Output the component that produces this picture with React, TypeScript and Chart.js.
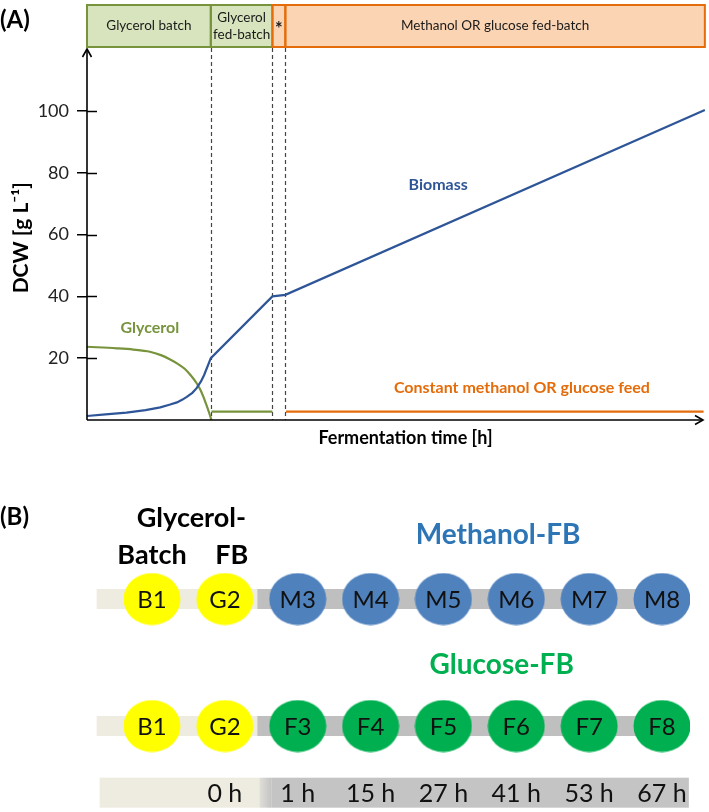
import React, { useEffect, useRef } from 'react';
import { Chart, registerables } from 'chart.js';

Chart.register(...registerables);

const FONT = 'Lato, "Open Sans", "DejaVu Sans", sans-serif';

// ---------------- Panel A data (time in arbitrary units, DCW in g/L) ----------------
const biomassTime = [0, 3, 6.4, 9.5, 11.9, 13.5, 14.6, 15.5, 16.2, 17.1, 17.8, 18.5, 19.0, 20.1, 30.1, 32.2, 100.3];
const biomassDCW = [1.3, 1.8, 2.4, 3.2, 4.1, 5.0, 5.7, 6.6, 7.5, 8.8, 10.3, 12.5, 14.5, 20.0, 40.0, 40.5, 100.3];
const glycerolTime = [0, 4.8, 7.5, 10.2, 12, 13.5, 14.8, 15.9, 16.9, 17.8, 18.4, 18.9, 19.4, 19.8, 20.2];
const glycerolConc = [23.7, 23.2, 22.8, 22.1, 21.0, 19.6, 18.1, 16.5, 14.3, 11.9, 9.8, 7.5, 4.8, 2.5, 0];
const glycerolFeedTime = [20.2, 30.1];
const glycerolFeedLevel = [2.7, 2.7];
const carbonFeedTime = [32.3, 100.1];
const carbonFeedLevel = [2.7, 2.7];
const dcwTicks = [20, 40, 60, 80, 100];
const phaseStart = [0, 20.1, 30.1, 32.2];
const phaseEnd = [20.1, 30.1, 32.2, 100.3];
const phaseText = ['Glycerol batch', 'Glycerol\nfed-batch', '*', 'Methanol OR glucose fed-batch'];
const phaseGroup = ['glycerol', 'glycerol', 'carbon', 'carbon'];
const phaseBoundaries = [20.1, 30.1, 32.2];

// ---------------- Panel B data ----------------
const methanolStages = ['B1', 'G2', 'M3', 'M4', 'M5', 'M6', 'M7', 'M8'];
const glucoseStages = ['B1', 'G2', 'F3', 'F4', 'F5', 'F6', 'F7', 'F8'];
const stagePhase = ['batch', 'glycerolFB', 'feed', 'feed', 'feed', 'feed', 'feed', 'feed'];
const samplingTimes = ['', '0 h', '1 h', '15 h', '27 h', '41 h', '53 h', '67 h'];

const BLUE_LINE = '#2e5597';
const GREEN_LINE = '#77933c';
const ORANGE = '#e46c0a';
const GREEN_FILL = '#d7e4bd';
const ORANGE_FILL = '#fbd4b4';
const METHANOL_BLUE = '#4f81bd';
const GLUCOSE_GREEN = '#00b050';
const YELLOW = '#ffff00';

const toXY = (xs: number[], ys: number[]) => xs.map((x, i) => ({ x, y: ys[i] }));

function arrowHead(ctx: CanvasRenderingContext2D, x: number, y: number, dir: 'up' | 'right') {
  ctx.beginPath();
  if (dir === 'up') {
    ctx.moveTo(x - 4.5, y + 8);
    ctx.lineTo(x, y);
    ctx.lineTo(x + 4.5, y + 8);
  } else {
    ctx.moveTo(x - 8, y - 4.5);
    ctx.lineTo(x, y);
    ctx.lineTo(x - 8, y + 4.5);
  }
  ctx.stroke();
}

const ellipseCache: Record<string, HTMLCanvasElement> = {};
function ellipseMarker(color: string): HTMLCanvasElement {
  if (ellipseCache[color]) return ellipseCache[color];
  const c = document.createElement('canvas');
  c.width = 58;
  c.height = 53;
  const cx = c.getContext('2d') as CanvasRenderingContext2D;
  cx.fillStyle = color;
  cx.beginPath();
  cx.ellipse(29, 26.5, 28.5, 26, 0, 0, Math.PI * 2);
  cx.fill();
  ellipseCache[color] = c;
  return c;
}

const panelAPlugin = {
  id: 'panelA',
  beforeDatasetsDraw(chart: any) {
    const { ctx, chartArea: ca, scales } = chart;
    const x = scales.x;
    ctx.save();
    ctx.strokeStyle = '#444';
    ctx.lineWidth = 1.2;
    ctx.setLineDash([4, 3]);
    phaseBoundaries.forEach((t) => {
      const px = Math.round(x.getPixelForValue(t)) + 0.5;
      ctx.beginPath();
      ctx.moveTo(px, ca.top);
      ctx.lineTo(px, ca.bottom);
      ctx.stroke();
    });
    ctx.restore();
  },
  afterDatasetsDraw(chart: any) {
    const { ctx, chartArea: ca, scales } = chart;
    const x = scales.x;
    const y = scales.y;
    ctx.save();

    // axes with arrows
    ctx.strokeStyle = '#000';
    ctx.lineWidth = 1.6;
    ctx.beginPath();
    ctx.moveTo(ca.left, ca.bottom);
    ctx.lineTo(ca.left, ca.top + 1);
    ctx.stroke();
    arrowHead(ctx, ca.left, ca.top + 1, 'up');
    ctx.beginPath();
    ctx.moveTo(ca.left, ca.bottom);
    ctx.lineTo(ca.right, ca.bottom);
    ctx.stroke();
    arrowHead(ctx, ca.right, ca.bottom, 'right');

    // inner half of the crossing tick marks
    ctx.lineWidth = 1.5;
    dcwTicks.forEach((v) => {
      const py = Math.round(y.getPixelForValue(v)) + 0.5;
      ctx.beginPath();
      ctx.moveTo(ca.left, py);
      ctx.lineTo(ca.left + 10, py);
      ctx.stroke();
    });

    // phase bands
    const bandTop = 5;
    const bandBottom = ca.top - 1;
    const order = [0, 1, 2, 3];
    order.forEach((i) => {
      const x0 = x.getPixelForValue(phaseStart[i]);
      const x1 = x.getPixelForValue(phaseEnd[i]);
      const isGly = phaseGroup[i] === 'glycerol';
      ctx.fillStyle = isGly ? GREEN_FILL : ORANGE_FILL;
      ctx.fillRect(x0, bandTop, x1 - x0, bandBottom - bandTop);
    });
    order.forEach((i) => {
      const x0 = x.getPixelForValue(phaseStart[i]);
      const x1 = x.getPixelForValue(phaseEnd[i]);
      const isGly = phaseGroup[i] === 'glycerol';
      ctx.strokeStyle = isGly ? GREEN_LINE : ORANGE;
      ctx.lineWidth = 2;
      ctx.strokeRect(x0, bandTop, x1 - x0, bandBottom - bandTop);
    });
    const bandMid = (bandTop + bandBottom) / 2;
    ctx.fillStyle = '#1a1a1a';
    ctx.textAlign = 'center';
    ctx.textBaseline = 'middle';
    phaseText.forEach((txt, i) => {
      const cx = (x.getPixelForValue(phaseStart[i]) + x.getPixelForValue(phaseEnd[i])) / 2;
      const lines = txt.split('\n');
      if (txt === '*') {
        ctx.font = `bold 18px ${FONT}`;
        ctx.fillText(txt, cx, bandMid + 3);
        return;
      }
      ctx.font = `13.5px ${FONT}`;
      const lh = 17;
      lines.forEach((ln, k) => {
        ctx.fillText(ln, cx, bandMid + (k - (lines.length - 1) / 2) * lh);
      });
    });

    // series labels
    ctx.font = `bold 16px ${FONT}`;
    ctx.fillStyle = GREEN_LINE;
    ctx.fillText('Glycerol', x.getPixelForValue(10.2), y.getPixelForValue(29.8));
    ctx.fillStyle = BLUE_LINE;
    ctx.fillText('Biomass', x.getPixelForValue(57), y.getPixelForValue(76));
    ctx.fillStyle = ORANGE;
    ctx.fillText('Constant methanol OR glucose feed', x.getPixelForValue(70.6), y.getPixelForValue(10.4));

    // axis titles
    ctx.fillStyle = '#000';
    ctx.font = `bold 18px ${FONT}`;
    ctx.fillText('Fermentation time [h]', x.getPixelForValue(51.7), ca.bottom + 18);
    ctx.save();
    ctx.translate(21, y.getPixelForValue(59));
    ctx.rotate(-Math.PI / 2);
    ctx.font = `bold 21px ${FONT}`;
    ctx.fillText('DCW [g L\u207B\u00B9]', 0, 0);
    ctx.restore();

    // panel label
    ctx.textAlign = 'left';
    ctx.font = `bold 24px ${FONT}`;
    ctx.fillText('(A)', 0, 20);
    ctx.restore();
  },
};

const stageColor = (phase: string, feedColor: string) => (phase === 'feed' ? feedColor : YELLOW);

const panelBPlugin = {
  id: 'panelB',
  beforeDatasetsDraw(chart: any) {
    const { ctx, scales } = chart;
    const x = scales.x;
    const y = scales.y;
    const step = x.getPixelForValue(1) - x.getPixelForValue(0);
    const left = x.getPixelForValue(0) - 0.76 * step;
    const right = x.getPixelForValue(methanolStages.length - 1) + 0.3 * step;
    const split = (x.getPixelForValue(1) + x.getPixelForValue(2)) / 2 - 4;
    ctx.save();
    [0, 1].forEach((di) => {
      const meta = chart.getDatasetMeta(di);
      const cy = meta.data[0].y;
      ctx.fillStyle = '#eeece1';
      ctx.fillRect(left, cy - 10, split - left, 20);
      ctx.fillStyle = '#bfbfbf';
      ctx.fillRect(split, cy - 10, right - split, 20);
    });
    // sampling-time band
    const ty = y.getPixelForValue(-0.05);
    const tLeft = left + 3;
    const tSplit = split + 2;
    ctx.fillStyle = '#eeece1';
    ctx.fillRect(tLeft, ty - 15, tSplit - tLeft, 30);
    const g = ctx.createLinearGradient(tSplit, 0, tSplit + 12, 0);
    g.addColorStop(0, '#e0dfd8');
    g.addColorStop(1, '#c4c4c4');
    ctx.fillStyle = g;
    ctx.fillRect(tSplit, ty - 15, 12, 30);
    ctx.fillStyle = '#c4c4c4';
    ctx.fillRect(tSplit + 12, ty - 15, right + 5 - tSplit - 12, 30);
    ctx.restore();
  },
  afterDatasetsDraw(chart: any) {
    const { ctx, scales } = chart;
    const x = scales.x;
    const y = scales.y;
    ctx.save();
    ctx.textAlign = 'center';
    ctx.textBaseline = 'middle';
    // circle labels
    ctx.fillStyle = '#111';
    ctx.font = `24px ${FONT}`;
    [methanolStages, glucoseStages].forEach((stages, di) => {
      const meta = chart.getDatasetMeta(di);
      stages.forEach((s, j) => {
        const el = meta.data[j];
        ctx.fillText(s, el.x, el.y + 1);
      });
    });
    // sampling times
    ctx.font = `25px ${FONT}`;
    const ty = y.getPixelForValue(-0.05);
    samplingTimes.forEach((t, j) => {
      if (t) ctx.fillText(t, x.getPixelForValue(j), ty + 1);
    });
    // headers
    const m = chart.getDatasetMeta(0);
    const g = chart.getDatasetMeta(1);
    const rowM = m.data[0].y;
    const rowG = g.data[0].y;
    const b1 = m.data[0].x;
    const g2 = m.data[1].x;
    ctx.fillStyle = '#000';
    ctx.font = `bold 27px ${FONT}`;
    ctx.fillText('Glycerol-', (b1 + g2) / 2 + 3, rowM - 81);
    ctx.fillText('Batch', b1, rowM - 44);
    ctx.fillText('FB', g2 + 7, rowM - 44);
    ctx.font = `bold 28px ${FONT}`;
    const step = x.getPixelForValue(1) - x.getPixelForValue(0);
    ctx.fillStyle = '#2e75b6';
    ctx.fillText('Methanol-FB', x.getPixelForValue(4) + 0.75 * step, rowM - 64);
    ctx.fillStyle = '#00b050';
    ctx.fillText('Glucose-FB', x.getPixelForValue(4) + 0.8 * step, rowG - 61);
    // panel label
    ctx.fillStyle = '#000';
    ctx.textAlign = 'left';
    ctx.font = `bold 24px ${FONT}`;
    ctx.fillText('(B)', 0, rowM - 82);
    ctx.restore();
  },
};

export default function App() {
  const refA = useRef<HTMLCanvasElement>(null);
  const refB = useRef<HTMLCanvasElement>(null);

  useEffect(() => {
    const lineBase = { pointRadius: 0, borderWidth: 2.2, clip: 12, fill: false };
    const chartA = new Chart(refA.current as HTMLCanvasElement, {
      type: 'line',
      data: {
        datasets: [
          { ...lineBase, label: 'Biomass', data: toXY(biomassTime, biomassDCW), borderColor: BLUE_LINE, tension: 0 },
          { ...lineBase, label: 'Glycerol', data: toXY(glycerolTime, glycerolConc), borderColor: GREEN_LINE, cubicInterpolationMode: 'monotone' },
          { ...lineBase, label: 'Glycerol feed', data: toXY(glycerolFeedTime, glycerolFeedLevel), borderColor: GREEN_LINE },
          { ...lineBase, label: 'Constant methanol OR glucose feed', data: toXY(carbonFeedTime, carbonFeedLevel), borderColor: ORANGE },
        ] as any,
      },
      options: {
        animation: false,
        responsive: false,
        events: [],
        layout: { autoPadding: false, padding: { top: 48, right: 6, bottom: 40, left: 0 } },
        plugins: { legend: { display: false }, tooltip: { enabled: false } },
        scales: {
          x: { type: 'linear', min: 0, max: 100, display: false },
          y: {
            type: 'linear',
            min: 0,
            max: 120.4,
            afterFit: (s: any) => { s.width = 87; },
            afterBuildTicks: (s: any) => { s.ticks = dcwTicks.map((v) => ({ value: v })); },
            ticks: { font: { family: FONT, size: 18 }, color: '#222', padding: 8 },
            grid: { drawOnChartArea: false, tickLength: 10, color: '#000', lineWidth: 1.5 },
            border: { display: false },
          },
        },
      } as any,
      plugins: [panelAPlugin],
    });

    const METHANOL_ROW = 3;
    const GLUCOSE_ROW = 1;
    const chartB = new Chart(refB.current as HTMLCanvasElement, {
      type: 'line',
      data: {
        labels: methanolStages.map((_, i) => String(i)),
        datasets: [
          {
            label: 'Methanol-FB',
            data: methanolStages.map(() => METHANOL_ROW),
            showLine: false,
            pointRadius: 27,
            pointStyle: stagePhase.map((p) => ellipseMarker(stageColor(p, METHANOL_BLUE))),
          },
          {
            label: 'Glucose-FB',
            data: glucoseStages.map(() => GLUCOSE_ROW),
            showLine: false,
            pointRadius: 27,
            pointStyle: stagePhase.map((p) => ellipseMarker(stageColor(p, GLUCOSE_GREEN))),
          },
        ] as any,
      },
      options: {
        animation: false,
        responsive: false,
        events: [],
        layout: { autoPadding: false, padding: { top: 0, right: 47, bottom: 0, left: 152 } },
        plugins: { legend: { display: false }, tooltip: { enabled: false } },
        scales: {
          x: { type: 'category', display: false, offset: false },
          y: { type: 'linear', display: false, min: -0.354, max: 5.189 },
        },
      } as any,
      plugins: [panelBPlugin],
    });

    return () => {
      chartA.destroy();
      chartB.destroy();
    };
  }, []);

  return (
    <div style={{ position: 'absolute', left: 0, top: 0, width: 709, height: 812, background: '#fff' }}>
      <canvas ref={refA} width={709} height={460} style={{ display: 'block', width: 709, height: 460 }} />
      <canvas ref={refB} width={709} height={352} style={{ display: 'block', width: 709, height: 352 }} />
    </div>
  );
}
